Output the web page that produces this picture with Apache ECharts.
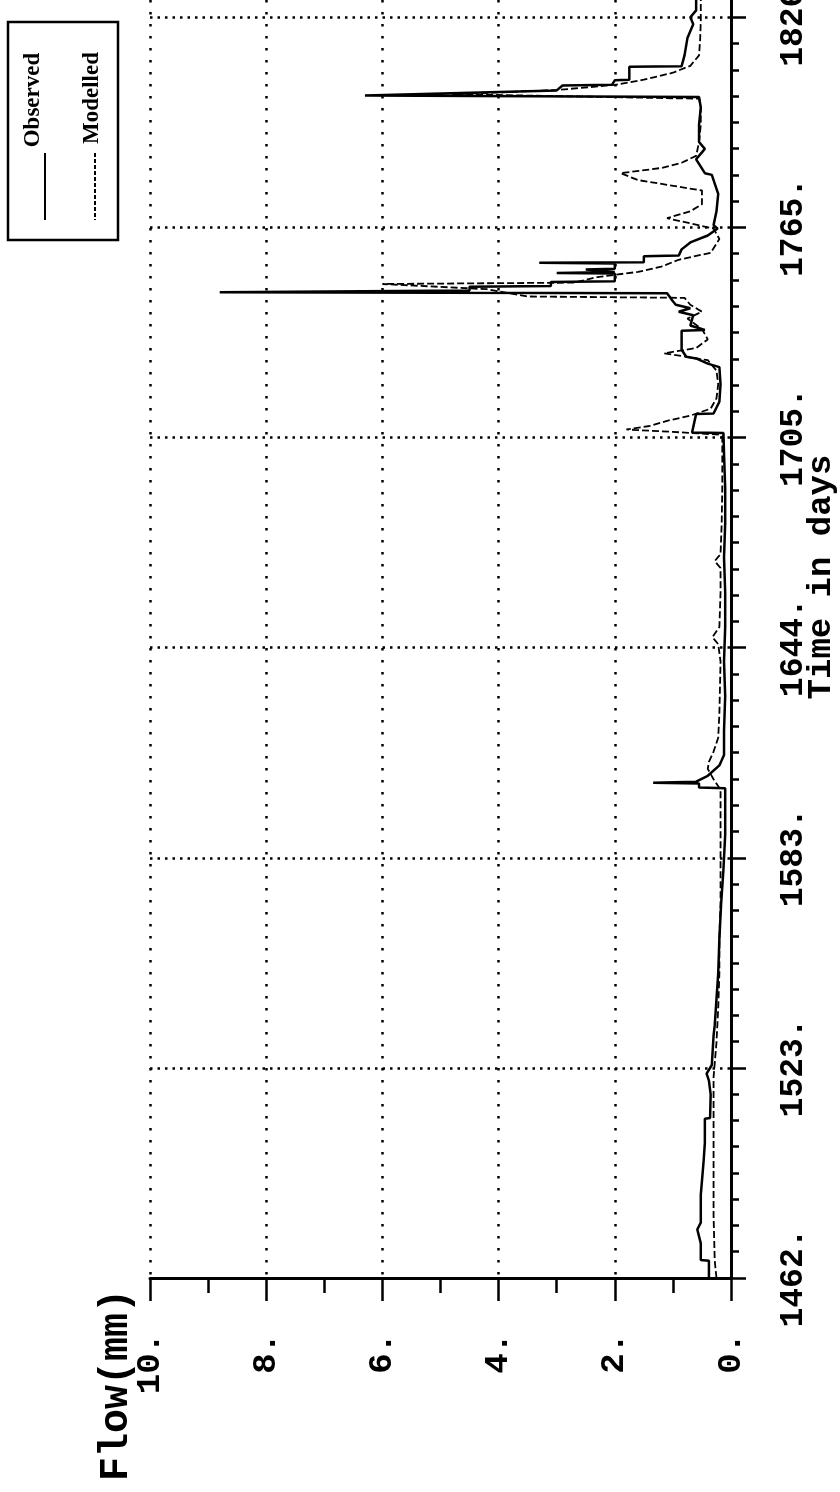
<!DOCTYPE html>
<html><head><meta charset="utf-8">
<script src="https://cdn.jsdelivr.net/npm/echarts@6/dist/echarts.min.js"></script>
<style>html,body{margin:0;padding:0;background:#fff}#c{width:840px;height:1492px}</style>
</head><body><div id="c"></div>
<script>
// ---- data (time in days vs flow in mm) ----
const obsDays = [1462,1467,1467.2,1472,1476,1478,1486,1490,1496,1501,1508,1508.2,1515,1519,1521,1523.5,1532,1535,1540,1550,1560,1570,1580,1590,1600,1603.4,1603.6,1604.8,1605,1605.3,1607,1610,1613,1620,1630,1640,1650,1660,1670,1680,1690,1700,1706,1706.1,1711.5,1711.6,1715,1720,1725,1726,1727.5,1728,1730,1732,1735.5,1735.7,1737,1740,1741,1742,1743,1744,1746.3,1746.6,1747.1,1748.2,1748.4,1749.6,1749.8,1752,1752.2,1752.5,1753,1753.2,1753.4,1754.9,1755.1,1755.3,1757,1757.2,1759,1761,1763,1765,1766,1770,1775,1778,1780.5,1781,1785,1788,1790,1795,1800,1803,1803.4,1804.9,1806.3,1806.5,1807.8,1808,1811.7,1811.9,1815,1820,1824,1826,1828,1831];
const obsFlow = [0.38,0.38,0.52,0.52,0.58,0.52,0.52,0.5,0.47,0.45,0.45,0.36,0.35,0.38,0.42,0.33,0.3,0.28,0.26,0.22,0.2,0.17,0.13,0.1,0.1,0.1,0.55,0.55,1.34,0.6,0.4,0.2,0.12,0.12,0.1,0.12,0.1,0.1,0.12,0.1,0.1,0.12,0.13,0.67,0.6,0.3,0.2,0.18,0.2,0.4,0.6,0.77,0.85,0.85,0.85,0.45,0.7,0.65,0.9,0.7,0.95,1.0,1.1,8.8,4.5,4.5,3.1,3.1,2.0,2.0,3.0,2.0,2.0,2.5,2.0,2.0,3.3,1.5,1.5,0.9,0.85,0.7,0.4,0.23,0.3,0.25,0.22,0.28,0.33,0.45,0.6,0.45,0.55,0.55,0.52,0.55,6.3,3.0,2.9,2.05,2.0,1.75,1.75,0.85,0.8,0.75,0.65,0.7,0.6,0.6];
const modDays = [1462,1467,1480,1490,1500,1510,1520,1530,1540,1550,1560,1570,1580,1590,1603,1606,1609,1611,1614,1618,1625,1640,1645,1647,1650,1660,1667,1669,1671,1680,1690,1705,1705.5,1706.3,1707,1708,1709.5,1711,1713,1716,1720,1724,1727,1729,1730.5,1733,1736,1739,1741,1743,1745,1745.4,1747.5,1749,1749.4,1751,1752.5,1754,1756,1758,1762,1765,1766.5,1768,1770,1772,1776,1779,1781,1782.5,1784,1786,1790,1795,1800,1802.5,1803.8,1805,1806.5,1808,1810,1812,1815,1820,1825,1831];
const modFlow = [0.25,0.28,0.3,0.3,0.3,0.3,0.3,0.25,0.22,0.2,0.2,0.18,0.18,0.18,0.18,0.3,0.4,0.38,0.3,0.22,0.2,0.18,0.22,0.32,0.2,0.18,0.18,0.28,0.18,0.16,0.15,0.15,0.2,1.0,1.8,1.4,1.1,0.7,0.35,0.25,0.22,0.25,0.4,1.15,0.6,0.4,0.5,0.75,0.5,0.7,0.8,3.5,4.2,6.0,2.7,2.3,1.6,1.2,0.9,0.35,0.2,0.3,0.7,1.1,0.7,0.5,0.5,1.6,1.9,1.2,0.85,0.6,0.55,0.52,0.52,0.55,4.8,3.0,2.0,1.5,1.0,0.7,0.55,0.53,0.52,0.52];
const seriesNames = ['Observed', 'Modelled'];
const timeTicks = [1462, 1522.667, 1583.333, 1644, 1704.667, 1765.333, 1826];
const timeTickLabels = ['1462.', '1523.', '1583.', '1644.', '1705.', '1765.', '1826.'];
const flowTickLabels = ['0.', '2.', '4.', '6.', '8.', '10.'];
const axisTitles = ['Time in days', 'Flow(mm)'];

// ---- build ----
const minorTimeTicks = [];
for (let i = 0; i < timeTicks.length - 1; i++) {
  const step = (timeTicks[i + 1] - timeTicks[i]) / 8;
  for (let k = 1; k < 8; k++) minorTimeTicks.push(timeTicks[i] + k * step);
}
const obsData = obsDays.map((d, i) => [obsFlow[i], d]);
const modData = modDays.map((d, i) => [modFlow[i], d]);
const MONO = "'Liberation Mono','DejaVu Sans Mono',monospace";

const chart = echarts.init(document.getElementById('c'), null, {renderer: 'canvas'});
chart.setOption({
  animation: false,
  backgroundColor: '#ffffff',
  grid: {left: 150, right: 109, top: 0, bottom: 214, containLabel: false, outerBoundsMode: 'none'},
  xAxis: {
    type: 'value', min: 0, max: 10, interval: 2, inverse: true, position: 'bottom',
    axisLine: {show: true, lineStyle: {color: '#000', width: 3}},
    axisTick: {show: true, inside: false, length: 23, lineStyle: {color: '#000', width: 2.5}},
    minorTick: {show: true, splitNumber: 2, length: 15, lineStyle: {color: '#000', width: 2.5}},
    splitLine: {show: true, lineStyle: {color: '#000', width: 2.5, type: [2.5, 9.5]}},
    axisLabel: {
      rotate: 90, margin: 55, color: '#000', fontFamily: MONO, fontWeight: 'bold', fontSize: 34,
      formatter: v => flowTickLabels[Math.round(v / 2)]
    }
  },
  yAxis: [{
    type: 'value', min: 1462, max: 1831, position: 'right',
    axisLine: {show: true, lineStyle: {color: '#000', width: 3}},
    axisTick: {show: true, inside: false, length: 15, customValues: timeTicks, lineStyle: {color: '#000', width: 2.5}},
    splitLine: {show: true, lineStyle: {color: '#000', width: 2.5, type: [2.5, 5]}},
    axisLabel: {
      customValues: timeTicks, rotate: 90, margin: 46, color: '#000', fontFamily: MONO, fontWeight: 'bold', fontSize: 33,
      formatter: v => {
        let best = 0;
        timeTicks.forEach((t, i) => { if (Math.abs(t - v) < Math.abs(timeTicks[best] - v)) best = i; });
        return timeTickLabels[best];
      }
    }
  }, {
    type: 'value', min: 1462, max: 1831, position: 'right',
    axisLine: {show: false},
    axisTick: {show: true, inside: false, length: 8, customValues: minorTimeTicks, lineStyle: {color: '#000', width: 2.5}},
    splitLine: {show: false},
    axisLabel: {show: false}
  }],
  series: [{
    name: seriesNames[0], type: 'line', data: obsData, xAxisIndex: 0, yAxisIndex: 0,
    showSymbol: false, symbol: 'none', lineStyle: {color: '#000', width: 2.5}, z: 3
  }, {
    name: seriesNames[1], type: 'line', data: modData, xAxisIndex: 0, yAxisIndex: 0,
    showSymbol: false, symbol: 'none', lineStyle: {color: '#000', width: 1.8, type: [7, 3]}, z: 4
  }],
  graphic: [
    {type: 'rect', shape: {x: 8, y: 22, width: 110, height: 218}, style: {fill: '#fff', stroke: '#000', lineWidth: 2.5}},
    {type: 'text', x: 33, y: 100, rotation: Math.PI / 2,
     style: {text: seriesNames[0], font: "bold 23px 'Liberation Serif', serif", fill: '#000', align: 'center', verticalAlign: 'middle'}},
    {type: 'line', shape: {x1: 45, y1: 153, x2: 45, y2: 220}, style: {stroke: '#000', lineWidth: 2}},
    {type: 'text', x: 92, y: 98, rotation: Math.PI / 2,
     style: {text: seriesNames[1], font: "bold 23px 'Liberation Serif', serif", fill: '#000', align: 'center', verticalAlign: 'middle'}},
    {type: 'line', shape: {x1: 95, y1: 153, x2: 95, y2: 220}, style: {stroke: '#000', lineWidth: 2, lineDash: [4, 2]}},
    {type: 'text', x: 821, y: 577, rotation: Math.PI / 2,
     style: {text: axisTitles[0], font: "bold 34px " + MONO, fill: '#000', align: 'center', verticalAlign: 'middle'}},
    {type: 'text', x: 117, y: 1385, rotation: Math.PI / 2,
     style: {text: axisTitles[1], font: "bold 40px " + MONO, fill: '#000', align: 'center', verticalAlign: 'middle'}}
  ]
});
</script></body></html>
